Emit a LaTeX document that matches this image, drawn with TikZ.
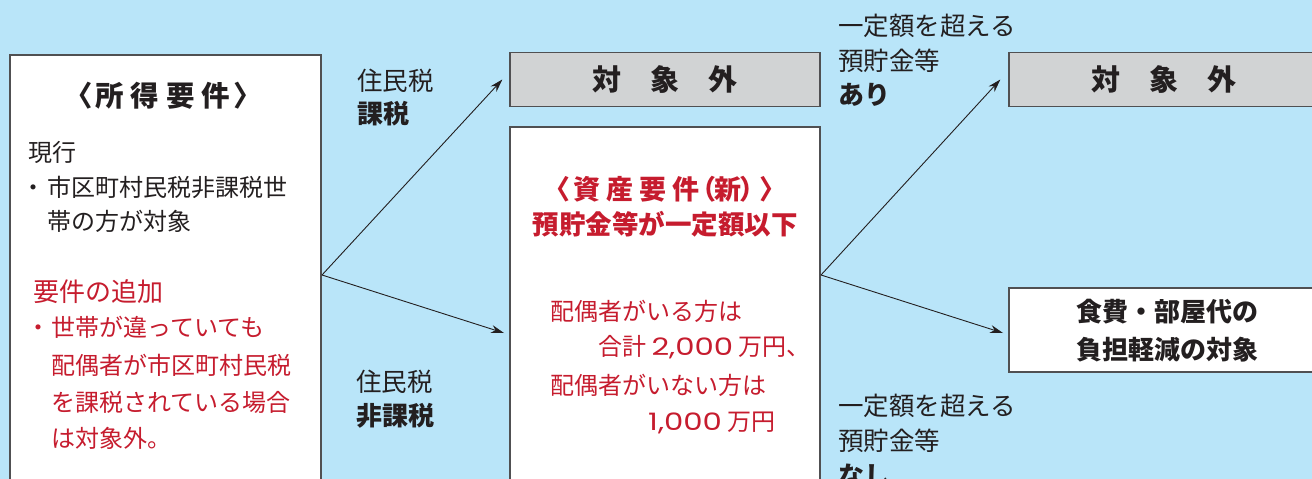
\documentclass[tikz,border=0pt]{standalone}
\usepackage{fontspec}
\setmainfont{Noto Sans CJK JP}
\newfontfamily\numf{Poppins}
\usetikzlibrary{arrows.meta}
\definecolor{bgblue}{RGB}{185,229,249}
\definecolor{boxgray}{RGB}{209,211,212}
\definecolor{edge}{RGB}{80,80,82}
\definecolor{txt}{RGB}{35,31,32}
\definecolor{jred}{RGB}{198,28,46}
\newcommand\widenum[1]{\scalebox{1.28}[1]{\numf #1}}
\begin{document}
\begin{tikzpicture}[x=1pt,y=-1pt,
  box/.style={draw=edge,line width=1.3pt,rectangle,inner sep=0pt},
  graybox/.style={box,fill=boxgray},
  whitebox/.style={box,fill=white},
  arr/.style={draw=txt,line width=0.9pt,-{Stealth[length=13pt,width=8pt]}},
  lbl/.style={anchor=west,inner sep=0pt,text=txt,font=\fontsize{24pt}{28pt}\selectfont},
  mid/.style={anchor=west,inner sep=0pt,text=txt,font=\fontsize{25.5pt}{28pt}\selectfont},
  midb/.style={mid,font=\fontsize{26pt}{28pt}\selectfont\bfseries},
  red/.style={lbl,text=jred},
  head/.style={inner sep=0pt,text=txt,font=\fontsize{28.5pt}{30pt}\selectfont\bfseries},
  ctr/.style={inner sep=0pt,text=txt,font=\fontsize{26pt}{30pt}\selectfont\bfseries},
  outtxt/.style={inner sep=0pt,text=txt,font=\fontsize{29pt}{30pt}\selectfont\bfseries}
]
\useasboundingbox (0,0) rectangle (1312,479);
\fill[bgblue] (0,0) rectangle (1312,479);
\begin{scope}
\clip (0,0) rectangle (1312,479);
% boxes
\node[whitebox,minimum width=311pt,minimum height=440pt] (income) at (165.5,275) {};
\node[graybox,minimum width=310pt,minimum height=54pt] (out1) at (665,79.5) {};
\node[whitebox,minimum width=310pt,minimum height=370pt] (asset) at (665,312) {};
\node[graybox,minimum width=320pt,minimum height=54pt] (out2) at (1169,79.5) {};
\node[whitebox,minimum width=320pt,minimum height=84pt] (res) at (1169,330) {};
% left box text
\node[head] (h1) at (163,96) {〈\hspace{3pt}所\hspace{7pt}得\hspace{7pt}要\hspace{7pt}件\hspace{3pt}〉};
\node[lbl] (l1) at (28,152) {現行};
\node[lbl] (l2) at (47,187) {\llap{・\hspace{2pt}}市区町村民税非課税世};
\node[lbl] (l3) at (47,221) {帯の方が対象};
\node[red,font=\fontsize{26pt}{28pt}\selectfont] (r1) at (33,292) {要件の追加};
\node[red] (r2) at (51,327) {\llap{・\hspace{1pt}}世帯が違っていても};
\node[red] (r3) at (51,365) {配偶者が市区町村民税};
\node[red] (r4) at (51,402) {を課税されている場合};
\node[red] (r5) at (51,438) {は対象外。};
% labels between
\node[mid] (m1) at (357,81) {住民税};
\node[midb] (m2) at (357,114) {課税};
\node[mid] (m3) at (356,382) {住民税};
\node[midb] (m4) at (356,416) {非課税};
% out boxes text
\node[outtxt] (o1) at (out1.center) {対\hspace{29pt}象\hspace{29pt}外};
\node[outtxt] (o2) at (1164,79) {対\hspace{29pt}象\hspace{29pt}外};
% asset box text
\node[head,text=jred,font=\fontsize{27pt}{30pt}\selectfont\bfseries] (a1) at (665,189) {〈\hspace{3pt}資\hspace{6pt}産\hspace{6pt}要\hspace{6pt}件\hspace{-10pt}（\hspace{-2pt}新\hspace{-2pt}）\hspace{-7pt}〉};
\node[head,text=jred,font=\fontsize{26.5pt}{30pt}\selectfont\bfseries] (a2) at (665,224) {預貯金等が一定額以下};
\node[red] (a3) at (550,311) {配偶者がいる方は};
\node[red] (a4) at (598,347) {合計 \widenum{2,000} 万円、};
\node[red] (a5) at (550,385) {配偶者がいない方は};
\node[red] (a6) at (648,423) {\widenum{1,000} 万円};
% right labels
\node[mid] (q1) at (838,26) {一定額を超える};
\node[mid] (q2) at (838,61) {預貯金等};
\node[midb] (q3) at (838,95) {あり};
\node[mid] (q4) at (838,406) {一定額を超える};
\node[mid] (q5) at (838,441) {預貯金等};
\node[midb] (q6) at (838,476) {なし};
% result text
\node[ctr] (s1) at (1167,312) {食費・部屋代の};
\node[ctr] (s2) at (1167,350) {負担軽減の対象};
% connectors
\coordinate (fork1) at (322,275);
\coordinate (fork2) at (821,275);
\coordinate (tip1) at (504,333);
\coordinate (tip2) at (1003,333);
\draw[arr] (fork1) -- ([xshift=-7pt]out1.west);
\draw[arr] (fork1) -- (tip1);
\draw[arr] (fork2) -- ([xshift=-8pt]out2.west);
\draw[arr] (fork2) -- (tip2);
\end{scope}
\end{tikzpicture}
\end{document}
